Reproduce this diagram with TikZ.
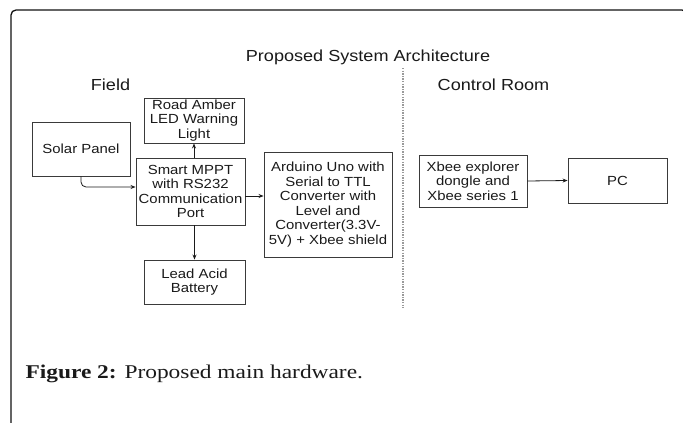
\documentclass[tikz,border=0pt]{standalone}
\usepackage{fontspec}
\setmainfont{Liberation Serif}
\newfontfamily\diagfont[FakeStretch=1.13]{Liberation Sans}
\newfontfamily\capfont[FakeStretch=1.2]{Liberation Serif}
\usepackage{tikz}
\usetikzlibrary{
  arrows.meta,
  positioning,
}
\definecolor{ink}{HTML}{1A1A1A}
\definecolor{boxline}{HTML}{3A3A3A}
\definecolor{divider}{HTML}{9A9A9A}
\definecolor{frame}{HTML}{111111}
\tikzset{
  >={Stealth[length=5pt,width=4pt]},
  every node/.append style={text=ink},
  heading/.style={font=\diagfont\fontsize{16}{18}\selectfont, anchor=base},
  block/.style={
    draw=boxline,
    line width=0.9pt,
    inner sep=0pt,
    align=center,
    font=\diagfont\fontsize{13.2}{14.6}\selectfont,
  },
  link/.style={->, draw=ink, line width=0.8pt},
  caption/.style={font=\capfont\fontsize{19.5}{22}\selectfont, anchor=base west},
}

\begin{document}
\begin{tikzpicture}[x=1pt,y=-1pt]
  \useasboundingbox (0,0) rectangle (683,423);
  \begin{scope}
    \clip (0,0) rectangle (683,423);
    \draw[frame, line width=1.3pt, rounded corners=5pt] (11,10) rectangle (687,430);
  \end{scope}

  % headings
  \node[heading] (title) at (368,61) {Proposed System Architecture};
  \node[heading] (field) at (110.5,90) {Field};
  \node[heading] (room) at (493.5,90) {Control Room};

  % divider between field and control room
  \coordinate (div top) at (403,68);
  \coordinate (div bot) at (403,308);
  \draw[divider, line width=1.1pt, dash pattern=on 1.3pt off 1.3pt] (div top) -- (div bot);

  % field side
  \node[block, minimum width=98pt, minimum height=54pt] (solar) at (81,149) {Solar Panel};
  \node[block, minimum width=100pt, minimum height=45pt] (amber) at (194,120.5) {Road Amber\\LED Warning\\Light};
  \node[block, minimum width=109pt, minimum height=67pt] (mppt) at (190.5,191.5) {Smart MPPT\\with RS232\\Communication\\Port};
  \node[block, minimum width=101pt, minimum height=44pt] (battery) at (194.5,282) {Lead Acid\\Battery};
  \node[block, minimum width=128pt, minimum height=105pt] (arduino) at (328,204.5) {Arduino Uno with\\Serial to TTL\\Converter with\\Level and\\Converter(3.3V-\\5V) + Xbee shield};

  % control room side
  \node[block, minimum width=108pt, minimum height=52pt] (xbee) at (473,181) {Xbee explorer\\dongle and\\Xbee series 1};
  \node[block, minimum width=99pt, minimum height=45pt] (pc) at (617.5,180.5) {PC};

  % connectors
  \coordinate (mppt in) at (mppt.west |- 0,187);
  \draw[link, rounded corners=5pt] (solar.south) |- (mppt in);
  \draw[link] (mppt.north -| amber.south) -- (amber.south);
  \draw[link] (mppt.south -| battery.north) -- (battery.north);
  \draw[link] (mppt.east |- 0,196) -- (arduino.west |- 0,196);
  \draw[link] (xbee.east) -- (pc.west);

  \node[caption] (cap) at (22,378.5) {\textbf{Figure 2:} Proposed main hardware.};
\end{tikzpicture}
\end{document}
